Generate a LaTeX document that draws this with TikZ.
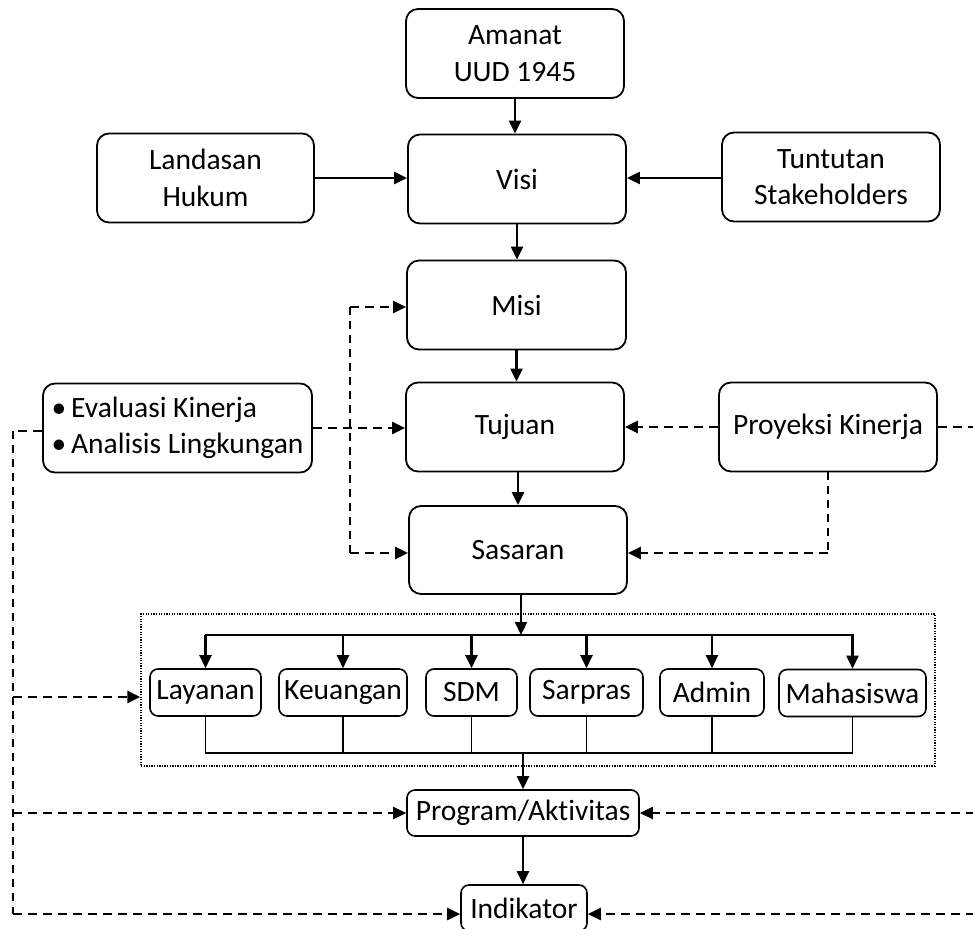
\documentclass[tikz,border=0pt]{standalone}
\usepackage{fontspec}
\setmainfont{Carlito}[Ligatures={NoCommon}]
\usetikzlibrary{arrows.meta}
\begin{document}
\begin{tikzpicture}[x=1pt,y=-1pt,
  txt/.style={font=\fontsize{29.5}{36.5}\selectfont},
  box/.style={txt,draw,line width=1.8pt,rounded corners=12pt,align=center,inner sep=0pt,minimum width=218pt,minimum height=89pt},
  sbox/.style={txt,draw,line width=1.6pt,rounded corners=8pt,inner sep=0pt,minimum height=47pt},
  tip/.style={-{Triangle[length=13pt,width=12pt]}},
  arr/.style={line width=2.2pt,tip},
  hd/.style={line width=2.5pt,dash pattern=on 9pt off 6pt},
  hda/.style={hd,tip},
  vd/.style={line width=1.5pt,dash pattern=on 8pt off 6pt},
  thin/.style={line width=1.4pt}
]
\useasboundingbox (0,0) rectangle (973,928);
% main column
\node[box] (amanat) at (515,53.5) {Amanat\\UUD 1945};
\node[box] (visi) at (517,179) {Visi};
\node[box,minimum width=217pt] (landasan) at (205.5,178) {Landasan\\Hukum};
\node[box] (tuntutan) at (831,177) {Tuntutan\\Stakeholders};
\node[box,minimum width=219pt] (misi) at (516.5,305) {Misi};
\node[box] (tujuan) at (515,427) {Tujuan};
\node[box,minimum width=269pt,align=left] (evaluasi) at (177.5,428) {\textbullet\,Evaluasi Kinerja\\\textbullet\,Analisis Lingkungan};
\node[box] (proyeksi) at (828,427) {Proyeksi Kinerja};
\node[box,minimum height=88pt] (sasaran) at (518,550) {Sasaran};
% group
\node[draw,line width=1.2pt,dash pattern=on 1.3pt off 1.3pt,minimum width=794pt,minimum height=152pt,inner sep=0pt] (grp) at (538,690) {};
\node[sbox,minimum width=111pt] (layanan) at (205.5,692.5) {Layanan};
\node[sbox,minimum width=128pt] (keuangan) at (343,692.5) {Keuangan};
\node[sbox,minimum width=91pt] (sdm) at (471.5,692.5) {SDM};
\node[sbox,minimum width=113pt] (sarpras) at (586.5,692.5) {Sarpras};
\node[sbox,minimum width=104pt] (admin) at (712,692.5) {Admin};
\node[sbox,minimum width=147pt] (mahasiswa) at (852.5,693) {Mahasiswa};
\node[sbox,minimum width=232pt,minimum height=46pt] (program) at (523,813) {Program/Aktivitas};
\node[sbox,minimum width=126pt,minimum height=46pt] (indikator) at (524,908) {Indikator};
% solid arrows
\draw[arr] (amanat.south) -- (amanat.south |- visi.north);
\draw[arr] (visi.south) -- (visi.south |- misi.north);
\draw[arr] (landasan.east) -- (landasan.east -| visi.west);
\draw[arr] (tuntutan.west |- landasan.east) -- (visi.east |- landasan.east);
\draw[arr] (misi.south) -- (misi.south |- tujuan.north);
\draw[arr] ([xshift=3pt]tujuan.south) -- ([xshift=3pt]tujuan.south |- sasaran.north);
% branches
\coordinate (bt) at (0,635);
\coordinate (bb) at (0,753);
\draw[arr] ([xshift=3pt]sasaran.south) -- ([xshift=3pt]sasaran.south |- bt);
\draw[line width=2.2pt] ([xshift=-1pt]layanan.north |- bt) -- ([xshift=1pt]mahasiswa.north |- bt);
\foreach \n in {layanan,keuangan,sdm,sarpras,admin,mahasiswa}{
  \draw[arr] (\n.north |- bt) -- (\n.north);
  \draw[thin] (\n.south) -- (\n.south |- bb);
}
\draw[thin] ([xshift=-0.7pt]layanan.south |- bb) -- ([xshift=0.7pt]mahasiswa.south |- bb);
\draw[arr] (program.north |- bb) -- (program.north);
\draw[arr] (program.south) -- (program.south |- indikator.north);
% dashed feedback
\coordinate (lt) at (13,0);
\coordinate (rt) at (990,0);
\coordinate (mv) at (350,0);
\draw[hd] ([yshift=-3pt]evaluasi.west) -- ([yshift=-3pt]evaluasi.west -| lt);
\draw[vd] ([yshift=-3pt]evaluasi.west -| lt) -- ([yshift=-6pt]indikator.west -| lt);
\draw[hda] ([yshift=-7pt]grp.west -| lt) -- ([yshift=-7pt]grp.west);
\draw[hda] (program.west -| lt) -- (program.west);
\draw[hda] ([yshift=-6pt]indikator.west -| lt) -- ([yshift=-6pt]indikator.west);
\draw[hd] (proyeksi.east) -- (proyeksi.east -| rt);
\draw[vd] (proyeksi.east -| rt) -- ([yshift=-6pt]indikator.east -| rt);
\draw[hda] (program.east -| rt) -- (program.east);
\draw[hda] ([yshift=-6pt]indikator.east -| rt) -- ([yshift=-6pt]indikator.east);
\draw[vd] ([yshift=-2pt]misi.west -| mv) -- ([yshift=-3pt]sasaran.west -| mv);
\draw[hda] ([yshift=-2pt]misi.west -| mv) -- ([yshift=-2pt]misi.west);
\draw[hda] ([yshift=-3pt]sasaran.west -| mv) -- ([yshift=-3pt]sasaran.west);
\draw[hda] (evaluasi.east) -- (evaluasi.east -| tujuan.west);
\draw[hda] (proyeksi.west) -- (proyeksi.west -| tujuan.east);
\draw[vd] (proyeksi.south) -- ([yshift=-3pt]proyeksi.south |- sasaran.east);
\draw[hda] ([yshift=-3pt]proyeksi.south |- sasaran.east) -- ([yshift=-3pt]sasaran.east);
\end{tikzpicture}
\end{document}
